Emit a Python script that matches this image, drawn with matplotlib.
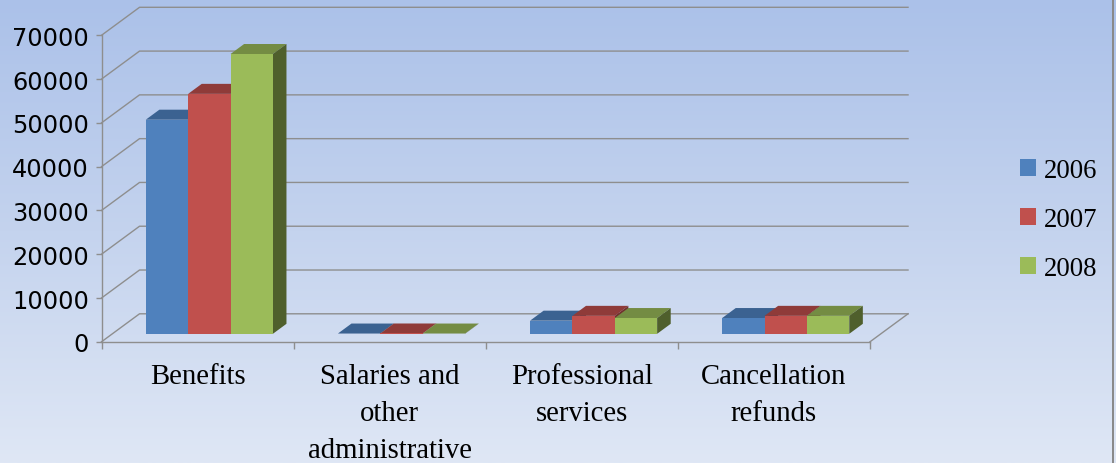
import numpy as np
import matplotlib
matplotlib.use("Agg")
import matplotlib.pyplot as plt
from matplotlib.colors import LinearSegmentedColormap
from matplotlib.patches import Patch, Polygon, Rectangle

# ── Data ──────────────────────────────────────────────────────────────────────
CATEGORIES = ["Benefits", "Salaries and\nother\nadministrative",
              "Professional\nservices", "Cancellation\nrefunds"]
YEARS = ["2006", "2007", "2008"]
V2006 = [48900, 60, 3000, 3600]
V2007 = [54800, 70, 4100, 4100]
V2008 = [63900, 60, 3600, 4100]
Y_TICKS = [0, 10000, 20000, 30000, 40000, 50000, 60000, 70000]

# ── Style ─────────────────────────────────────────────────────────────────────
W, H = 1116, 464
GREY = "#8e8e8e"
FRONT = ["#4f81bd", "#c0504d", "#9bbb59"]
TOP = ["#3b6291", "#8f3b39", "#748c43"]
SIDE = ["#2f4c70", "#72302e", "#4f5f2c"]

BAR_W = 0.2205
MARGIN = 0.174
DEPTH_X = 38 / 192        # full floor depth, in category units
DEPTH_Y = 28 / 306.5 * 70000   # same, in value units
BAR_NEAR = 8 / 28         # bars start this far into the floor
BAR_FAR = 18 / 28         # and end here

fig = plt.figure(figsize=(W / 100, H / 100), dpi=100)

# background gradient
bg = fig.add_axes([0, 0, 1, 1], zorder=0)
cmap = LinearSegmentedColormap.from_list("bg", ["#abc1e9", "#c4d3ee", "#dfe7f5"])
bg.imshow(np.linspace(0, 1, 256)[:, None], aspect="auto", cmap=cmap)
bg.axis("off")

ax = fig.add_axes([101.5 / W, 1 - 342.8 / H, 768.5 / W, 306.5 / H], zorder=1)
ax.patch.set_visible(False)
ax.set_xlim(0, 4)
ax.set_ylim(0, 70000)

# thin frame edge at the right of the picture
fig.add_artist(Rectangle((1112 / W, 0), 2 / W, 1, transform=fig.transFigure,
                         fc="#8a8a8a", ec="none", zorder=5))

# ── Walls ─────────────────────────────────────────────────────────────────────
for v in Y_TICKS:
    ax.plot([0, DEPTH_X, 4 + DEPTH_X], [v, v + DEPTH_Y, v + DEPTH_Y],
            color=GREY, lw=1, clip_on=False, zorder=1)
ax.plot([4, 4 + DEPTH_X], [0, DEPTH_Y], color=GREY, lw=1, clip_on=False, zorder=1)

# ── Bars ──────────────────────────────────────────────────────────────────────
def oblique(x, y, d):
    return (x + d * DEPTH_X, y + d * DEPTH_Y)

for i in range(len(CATEGORIES)):
    for s, values in enumerate([V2006, V2007, V2008]):
        v = values[i]
        x0 = i + MARGIN + s * BAR_W
        x1 = x0 + BAR_W
        base = oblique(x0, 0, BAR_NEAR)
        front_x = base[0]
        z = 2 + s
        ax.bar(front_x, v, BAR_W, bottom=base[1], align="edge", color=FRONT[s],
               linewidth=0, clip_on=False, zorder=z + 0.2)
        top = [oblique(x0, v, BAR_NEAR), oblique(x1, v, BAR_NEAR),
               oblique(x1, v, BAR_FAR), oblique(x0, v, BAR_FAR)]
        side = [oblique(x1, 0, BAR_NEAR), oblique(x1, v, BAR_NEAR),
                oblique(x1, v, BAR_FAR), oblique(x1, 0, BAR_FAR)]
        ax.add_patch(Polygon(top, closed=True, fc=TOP[s], ec="none", clip_on=False, zorder=z))
        ax.add_patch(Polygon(side, closed=True, fc=SIDE[s], ec="none", clip_on=False, zorder=z))

# ── Axes ──────────────────────────────────────────────────────────────────────
for name in ["top", "right"]:
    ax.spines[name].set_visible(False)
for name in ["left", "bottom"]:
    ax.spines[name].set_color(GREY)
    ax.spines[name].set_linewidth(1)

ax.set_yticks(Y_TICKS)
ax.set_yticklabels([str(v) for v in Y_TICKS], fontfamily="DejaVu Sans", fontsize=17.3)
ax.tick_params(axis="y", length=4, width=1, color=GREY, pad=5, labelcolor="black")

ax.set_xticks(range(5))
ax.set_xticklabels([])
ax.set_xticks([i + 0.5 for i in range(4)], minor=True)
ax.set_xticklabels(CATEGORIES, minor=True, fontfamily="Liberation Serif",
                   fontsize=20.7, linespacing=1.54)
ax.tick_params(axis="x", which="major", length=5, width=1, color=GREY)
ax.tick_params(axis="x", which="minor", length=0, pad=15.5)

# ── Legend ────────────────────────────────────────────────────────────────────
handles = [Patch(fc=FRONT[k], ec="none", label=YEARS[k]) for k in range(3)]
fig.legend(handles=handles, loc="center left", bbox_to_anchor=(1012 / W, 1 - 220.5 / H),
           frameon=False, prop={"family": "Liberation Serif", "size": 19.3},
           handlelength=0.6, handleheight=0.6, handletextpad=0.3,
           labelspacing=0.9, borderpad=0.3, borderaxespad=0)

plt.savefig("out.png", dpi=100)
